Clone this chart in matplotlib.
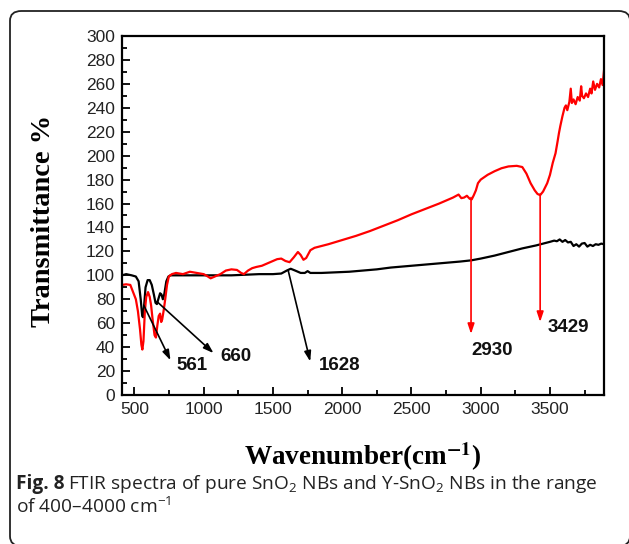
import matplotlib
matplotlib.use("Agg")
import matplotlib.pyplot as plt
from matplotlib.patches import FancyBboxPatch

# pure SnO2 NBs (black)
wn_black = [410, 440, 480, 510, 530, 545, 556, 562, 570, 580, 595, 610, 625, 640, 652, 662,
            672, 685, 695, 705, 715, 730, 745, 760, 800, 900, 1000, 1100, 1200, 1300, 1400,
            1500, 1560, 1600, 1628, 1660, 1700, 1730, 1750, 1770, 1850, 1950, 2050, 2150,
            2250, 2350, 2450, 2550, 2650, 2750, 2850, 2930, 3000, 3100, 3200, 3300, 3400,
            3450, 3500, 3530, 3550, 3570, 3590, 3610, 3630, 3650, 3670, 3690, 3710, 3730,
            3750, 3770, 3790, 3810, 3830, 3850, 3870, 3890]
t_black = [100, 101, 100, 99, 95, 80, 66, 65, 75, 90, 96, 96, 92, 84, 77, 76,
           80, 85, 84, 80, 84, 95, 99, 100, 100, 100, 100, 100, 100, 100.5, 101,
           101, 101.5, 104, 105.5, 104, 102, 102, 103.5, 102, 102, 102.5, 103, 104,
           105, 106.5, 107.5, 108.5, 109.5, 110.5, 111.5, 112.5, 114, 116.5, 119.5, 122.5, 125,
           126.5, 128, 129, 128.5, 130, 128, 129.5, 127.5, 128, 124.5, 126, 124, 126.5,
           127, 124, 125.5, 124.5, 126, 125.5, 126.5, 126]

# Y-SnO2 NBs (red)
wn_red = [410, 440, 470, 490, 510, 525, 540, 550, 557, 565, 575, 585, 598, 610, 620, 632,
          645, 655, 665, 675, 685, 693, 700, 710, 722, 735, 748, 770, 800, 850, 900, 950,
          1000, 1030, 1050, 1080, 1120, 1160, 1200, 1240, 1270, 1290, 1320, 1350, 1380,
          1420, 1460, 1500, 1530, 1560, 1590, 1620, 1650, 1680, 1700, 1720, 1740, 1770,
          1800, 1900, 2000, 2100, 2200, 2300, 2400, 2500, 2600, 2700, 2800, 2840, 2860,
          2880, 2900, 2920, 2935, 2950, 2965, 2980, 3000, 3050, 3100, 3150, 3200, 3260,
          3300, 3330, 3360, 3390, 3410, 3429, 3450, 3480, 3500, 3520, 3540, 3555, 3565,
          3575, 3590, 3605, 3615, 3625, 3640, 3650, 3658, 3670, 3685, 3700, 3715, 3725,
          3732, 3745, 3760, 3775, 3790, 3800, 3812, 3825, 3840, 3855, 3868, 3880, 3890]
t_red = [92, 92.5, 92, 86, 80, 70, 55, 42, 38, 45, 70, 82, 86, 82, 75, 62,
         50, 48, 58, 66, 68, 61, 63, 70, 80, 92, 99, 101, 102, 101, 103, 102,
         101, 99, 97.5, 99, 101, 104, 105, 104.5, 102, 101, 104, 106, 107,
         108, 110, 112, 113.5, 114, 112, 111, 115, 119.5, 117, 113, 114.5, 121,
         123, 126, 129.5, 133, 137, 141.5, 146, 151, 155.5, 160, 165, 167.5, 164.5,
         165, 166.5, 164, 163.5, 167, 171, 177, 180, 184, 187, 189.5, 191, 191.5,
         190.5, 185, 177, 171, 168, 167, 170, 177, 184, 194, 202, 212, 219,
         225, 233, 240, 242, 238, 245, 256, 244, 247, 243, 249, 246, 258,
         250, 248, 252, 249, 256, 252, 262, 255, 260, 257, 264, 259, 271]

# peak labels: (text, arrow start, arrow head, label pos, colour)
peaks = [("561", (567, 75), (760, 29), (918, 25), "black"),
         ("660", (663, 78), (1071, 35), (1235, 32), "black"),
         ("1628", (1610, 104), (1769, 28), (1985, 25), "black"),
         ("2930", (2930, 165), (2930, 51), (3081, 37), "red"),
         ("3429", (3429, 168), (3429, 61), (3636, 56), "red")]

plt.rcParams['mathtext.fontset'] = 'custom'
plt.rcParams['mathtext.rm'] = 'Open Sans'
plt.rcParams['mathtext.it'] = 'Open Sans'
plt.rcParams['mathtext.bf'] = 'Open Sans:bold'

fig = plt.figure(figsize=(6.29, 5.44), dpi=100)
W, H = 629, 544

# rounded frame, cut off at right and bottom like the source crop
frame = FancyBboxPatch((10 / W, 1 - 546 / H), 620 / W, 535 / H,
                       boxstyle="round,pad=0,rounding_size=0.018",
                       transform=fig.transFigure, fill=False, ec="#222222", lw=1.3)
fig.patches.append(frame)

ax = fig.add_axes([122 / W, 1 - 395 / H, 482 / W, 359 / H])
ax.plot(wn_black, t_black, color="black", lw=1.6)
ax.plot(wn_red, t_red, color="#ff0000", lw=1.6)

for txt, start, head, lab, col in peaks:
    ax.annotate("", xy=head, xytext=start,
                arrowprops=dict(arrowstyle="-|>,head_length=0.6,head_width=0.2",
                                color=col, lw=1.2, shrinkA=0, shrinkB=0))
    ax.text(lab[0], lab[1], txt, ha="center", va="center", fontsize=13.5,
            fontweight="bold", family="Liberation Sans", color="#111111")

ax.set_xlim(410, 3890)
ax.set_ylim(0, 300)
ax.set_xticks([500, 1000, 1500, 2000, 2500, 3000, 3500])
ax.set_xticks(range(750, 3890, 500), minor=True)
ax.set_yticks(range(0, 301, 20))
ax.set_yticks(range(10, 300, 20), minor=True)
ax.tick_params(which="both", direction="in", top=False, right=False, width=1.3)
ax.tick_params(which="major", length=6, labelsize=12.5, pad=5)
ax.tick_params(which="minor", length=3.5)
for lab in ax.get_xticklabels() + ax.get_yticklabels():
    lab.set_family("Liberation Sans")
    lab.set_color("#222222")
for s in ax.spines.values():
    s.set_linewidth(1.6)

ax.set_ylabel("Transmittance %", family="Liberation Serif", fontweight="bold",
              fontsize=20.5)
ax.yaxis.set_label_coords(-0.137, 0.485)
ax.set_xlabel(r"Wavenumber(cm$^{\mathbf{-1}}$)", family="Liberation Serif",
              fontweight="bold", fontsize=19.5, math_fontfamily="stix")
ax.xaxis.set_label_coords(0.5, -0.125)

# caption: bold "Fig. 8" followed by the regular text
renderer = fig.canvas.get_renderer()
cap_y = 1 - 484 / H
t1 = fig.text(16 / W, cap_y, "Fig. 8", family="Open Sans", fontweight="bold",
              fontsize=13.8, va="center", ha="left", color="#222222")
w1 = t1.get_window_extent(renderer).width
fig.text((16 + w1 + 4) / W, cap_y,
         r"FTIR spectra of pure SnO$_2$ NBs and Y-SnO$_2$ NBs in the range",
         family="Open Sans", fontsize=13.8, va="center", ha="left", color="#222222")
fig.text(16 / W, 1 - 507 / H, r"of 400–4000 cm$^{−1}$",
         family="Open Sans", fontsize=13.8, va="center", ha="left", color="#222222")

fig.savefig("out.png", dpi=100)
